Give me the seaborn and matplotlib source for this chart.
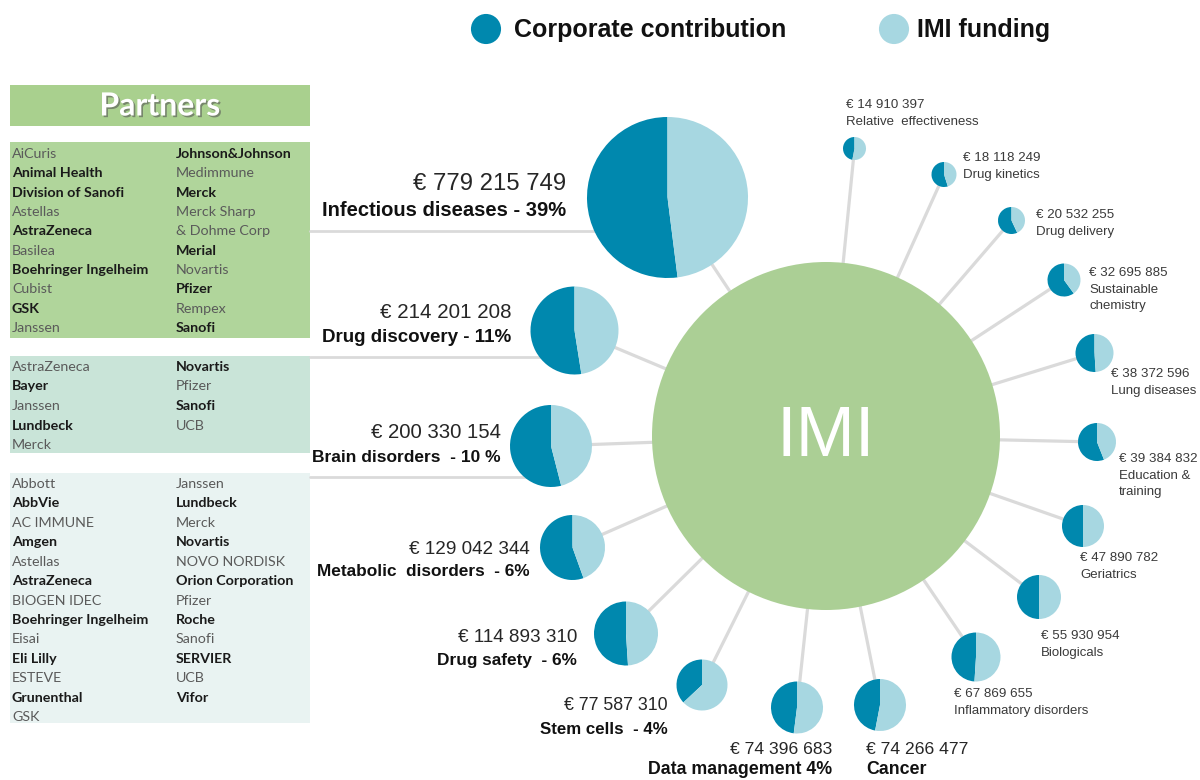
import matplotlib
matplotlib.use("Agg")
import matplotlib.pyplot as plt
import matplotlib.patheffects as pe
from matplotlib.patches import Rectangle, Circle
import seaborn as sns
import pandas as pd

# ---------------- data ----------------
series_names = ["Corporate contribution", "IMI funding"]

areas = ["Infectious diseases", "Drug discovery", "Brain disorders", "Metabolic  disorders",
         "Drug safety", "Stem cells", "Data management", "Cancer", "Inflammatory disorders",
         "Biologicals", "Geriatrics", "Education &\ntraining", "Lung diseases",
         "Sustainable\nchemistry", "Drug delivery", "Drug kinetics", "Relative  effectiveness"]
budgets = [779215749, 214201208, 200330154, 129042344, 114893310, 77587310, 74396683,
           74266477, 67869655, 55930954, 47890782, 39384832, 38372596, 32695885,
           20532255, 18118249, 14910397]
share_labels = [" - 39%", " - 11%", "  - 10 %", "  - 6%", "  - 6%", "  - 4%", " 4%",
                "", "", "", "", "", "", "", "", "", ""]
corporate_share = [0.52, 0.525, 0.54, 0.555, 0.51, 0.37, 0.48, 0.47, 0.49, 0.50, 0.50,
                   0.56, 0.51, 0.60, 0.57, 0.55, 0.47]

partners_t1_left = ["AiCuris", "Animal Health", "Division of Sanofi", "Astellas", "AstraZeneca",
                    "Basilea", "Boehringer Ingelheim", "Cubist", "GSK", "Janssen"]
partners_t1_left_bold = [0, 1, 1, 0, 1, 0, 1, 0, 1, 0]
partners_t1_right = ["Johnson&Johnson", "Medimmune", "Merck", "Merck Sharp", "& Dohme Corp",
                     "Merial", "Novartis", "Pfizer", "Rempex", "Sanofi"]
partners_t1_right_bold = [1, 0, 1, 0, 0, 1, 0, 1, 0, 1]
partners_t2_left = ["AstraZeneca", "Bayer", "Janssen", "Lundbeck", "Merck"]
partners_t2_left_bold = [0, 1, 0, 1, 0]
partners_t2_right = ["Novartis", "Pfizer", "Sanofi", "UCB"]
partners_t2_right_bold = [1, 0, 1, 0]
partners_t3_left = ["Abbott", "AbbVie", "AC IMMUNE", "Amgen", "Astellas", "AstraZeneca",
                    "BIOGEN IDEC", "Boehringer Ingelheim", "Eisai", "Eli Lilly", "ESTEVE",
                    "Grunenthal", "GSK"]
partners_t3_left_bold = [0, 1, 0, 1, 0, 1, 0, 1, 0, 1, 0, 1, 0]
partners_t3_right = ["Janssen", "Lundbeck", "Merck", "Novartis", "NOVO NORDISK",
                     "Orion Corporation", "Pfizer", "Roche", "Sanofi", "SERVIER", "UCB", "Vifor"]
partners_t3_right_bold = [0, 1, 0, 1, 0, 1, 0, 1, 0, 1, 0, 1]

# ---------------- layout / style ----------------
DARK = "#0088AE"
LIGHT = "#A7D7E1"
GREEN = "#ABCF95"
LINE = "#DADADA"

# pie centres (px) and radii
pie_xy = [(667.5, 197.5), (574.5, 330.5), (551, 446), (572.5, 547.5), (626, 633.5),
          (702, 685), (797, 707.5), (880, 705), (976, 657), (1039, 597), (1083, 526),
          (1097, 442), (1094.5, 353), (1064, 280), (1011.5, 220.5), (944, 174.5),
          (854.5, 148.5)]
pie_r = [80.5, 44, 41, 32.5, 32, 25.5, 26, 26, 24.5, 22, 21, 19, 19, 16.5, 13.5, 12.5, 11.5]
# label anchor (x, y of amount line), alignment, font sizes (amount, title), title offset
label_pos = [(566, 184, "right", 17.2, 14.5, 27), (511, 313, "right", 14.8, 13.5, 24),
             (501, 433, "right", 14.7, 12.5, 24), (530, 549, "right", 13.6, 12.4, 23),
             (577, 637, "right", 13.6, 12.4, 23), (668, 706, "right", 12.8, 12.2, 23),
             (832, 749, "right", 12.6, 12.8, 20), (866, 749, "left", 12.6, 12.8, 20),
             (954, 694, "left", 9.6, 9.5, 16.7), (1041, 636, "left", 9.6, 9.5, 16.7),
             (1080, 558, "left", 9.6, 9.5, 16.7), (1119, 459, "left", 9.6, 9.5, 16.7),
             (1111, 374, "left", 9.6, 9.5, 16.7), (1089, 273, "left", 9.6, 9.5, 16.7),
             (1036, 215, "left", 9.6, 9.5, 16.7), (963, 158, "left", 9.6, 9.5, 16.7),
             (846, 105, "left", 9.6, 9.5, 16.7)]
IMI_C = (826, 436)
IMI_R = 174

sns.set_theme(style="white")
plt.rcParams["font.family"] = ["Liberation Sans", "DejaVu Sans"]

fig = plt.figure(figsize=(12, 7.8), dpi=100)
ax = fig.add_axes([0, 0, 1, 1])

# connector lines (radial) and horizontal lines to partner tables
for (px, py) in pie_xy:
    ax.plot([IMI_C[0], px], [IMI_C[1], py], color=LINE, lw=2.3, zorder=1,
            solid_capstyle="butt")
for y, x2 in [(231, 600), (357, 540), (477, 530)]:
    ax.plot([310, x2], [y, y], color=LINE, lw=2.0, zorder=1)

# IMI circle
ax.add_patch(Circle(IMI_C, IMI_R, color=GREEN, zorder=2, lw=0))
ax.text(IMI_C[0], IMI_C[1] + 2, "IMI", color="white", fontsize=51, ha="center",
        va="center", zorder=5, fontweight="light")

# pies
for (cx, cy), r, s in zip(pie_xy, pie_r, corporate_share):
    wedges, _ = ax.pie([s, 1 - s], colors=[DARK, LIGHT], startangle=270,
                       counterclock=False, center=(cx, cy), radius=r, frame=True,
                       wedgeprops=dict(linewidth=0))
    for w in wedges:
        w.set_zorder(3)

# labels
for i, (name, amt, pct) in enumerate(zip(areas, budgets, share_labels)):
    x, y, ha, fs_a, fs_t, off = label_pos[i]
    small = fs_a < 11
    amount = "€ " + f"{amt:,}".replace(",", " ")
    col = "#3a3a3a" if small else "#262626"
    ax.text(x, y, amount, ha=ha, va="center", fontsize=fs_a, color=col, zorder=6)
    if small:
        for k, line in enumerate(name.split("\n")):
            ax.text(x, y + off * (k + 1), line, ha=ha, va="center", fontsize=fs_t,
                    color=col, zorder=6)
    else:
        ax.text(x, y + off, name + pct, ha=ha, va="center",
                fontsize=fs_t, fontweight="bold", color="#111111", zorder=6)

# legend markers via seaborn
leg = pd.DataFrame({"x": [486, 894], "y": [29, 29], "series": series_names})
sns.scatterplot(data=leg, x="x", y="y", hue="series", palette=[DARK, LIGHT], s=470,
                edgecolor="none", legend=False, ax=ax, zorder=6)
ax.text(514, 30, series_names[0], fontsize=18, fontweight="bold", va="center",
        color="#111111")
ax.text(917, 30, series_names[1], fontsize=18, fontweight="bold", va="center",
        color="#111111")

# partners header and tables
ax.add_patch(Rectangle((10, 85), 300, 41, color="#A9D08E", lw=0, zorder=1))
ax.text(160, 106, "Partners", color="white", fontsize=23, fontweight="bold",
        family=["Lato", "DejaVu Sans"], ha="center", va="center", zorder=6,
        path_effects=[pe.withSimplePatchShadow(offset=(1.2, -1.2), shadow_rgbFace="#555555",
                                               alpha=0.6)])

tables = [
    ((142, 338), "#B0D59B", 154, 19.33, partners_t1_left, partners_t1_left_bold,
     partners_t1_right, partners_t1_right_bold),
    ((356, 453), "#C9E4D8", 367, 19.5, partners_t2_left, partners_t2_left_bold,
     partners_t2_right, partners_t2_right_bold),
    ((473, 723), "#E9F3F2", 484, 19.42, partners_t3_left, partners_t3_left_bold,
     partners_t3_right, partners_t3_right_bold),
]
for (y0, y1), col, ystart, dy, ln, lb, rn, rb in tables:
    ax.add_patch(Rectangle((10, y0), 300, y1 - y0, color=col, lw=0, zorder=0.5))
    for xcol, names, bolds in [(12, ln, lb), (176, rn, rb)]:
        for k, (nm, b) in enumerate(zip(names, bolds)):
            ax.text(xcol, ystart + k * dy, nm, fontsize=10.3,
                    family=["Lato", "DejaVu Sans"],
                    fontweight="bold" if b else "normal",
                    color="#1a1a1a" if b else "#5a5a5a", va="center", zorder=6)

ax.set_xlim(0, 1200)
ax.set_ylim(780, 0)
ax.set_aspect("equal")
ax.axis("off")
fig.savefig("out.png", dpi=100, facecolor="white")
